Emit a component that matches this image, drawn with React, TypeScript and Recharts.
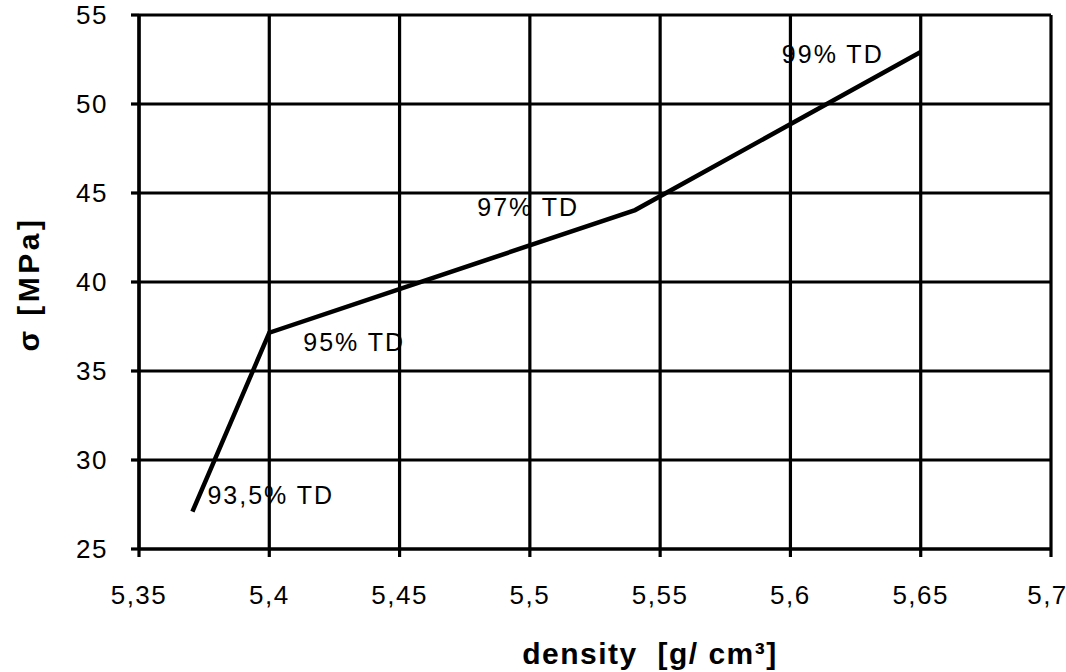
import { LineChart, Line, XAxis, YAxis, CartesianGrid, LabelList } from "recharts";

// measured points (density in g/cm3, stress in MPa)
const densities = [5.3705, 5.4, 5.5404, 5.65];
const sigma = [27.1, 37.15, 44.04, 52.92];
const pointLabels = ["93,5% TD", "95% TD", "97% TD", "99% TD"];

const xTicks = [5.35, 5.4, 5.45, 5.5, 5.55, 5.6, 5.65, 5.7];
const yTicks = [25, 30, 35, 40, 45, 50, 55];

// where each text sits relative to its point: [dx, dy, anchor]
const labelPlacement: [number, number, string][] = [
  [15, -17, "start"],
  [34, 9, "start"],
  [-56, -3, "end"],
  [-37, 2, "end"],
];

const data = densities.map((d, i) => ({ density: d, sigma: sigma[i], label: pointLabels[i] }));

const FONT = "'Liberation Sans', Arial, sans-serif";
const fmt = (v: number) => String(v).replace(".", ",");

const PointLabel = (props: any) => {
  const { x, y, index, value } = props;
  const [dx, dy, anchor] = labelPlacement[index];
  return (
    <text
      x={x + dx}
      y={y + dy}
      textAnchor={anchor}
      dominantBaseline="central"
      fontFamily={FONT}
      fontSize={25}
      letterSpacing={2}
      fill="#000"
    >
      {value}
    </text>
  );
};

const YTitle = ({ viewBox }: any) => {
  const cx = viewBox.x + 28;
  const cy = viewBox.y + viewBox.height / 2 + 2;
  return (
    <text
      x={cx}
      y={cy}
      transform={`rotate(-90, ${cx}, ${cy})`}
      textAnchor="middle"
      dominantBaseline="central"
      fontFamily={FONT}
      fontWeight="bold"
      fontSize={30}
      letterSpacing={3.5}
      fill="#000"
    >
      σ [MPa]
    </text>
  );
};

const XTitle = ({ viewBox }: any) => (
  <text
    x={viewBox.x + viewBox.width / 2 + 55}
    y={viewBox.y + 104}
    textAnchor="middle"
    dominantBaseline="central"
    fontFamily={FONT}
    fontWeight="bold"
    fontSize={30}
    letterSpacing={1.5}
    fill="#000"
    style={{ whiteSpace: "pre" }}
  >
    {"density  [g/ cm³]"}
  </text>
);

export default function App() {
  const tickStyle = { fill: "#000", fontSize: 26, fontFamily: FONT, letterSpacing: 1.5 };
  return (
    <div style={{ position: "absolute", left: 0, top: 0, background: "#fff" }}>
      <LineChart width={1066} height={672} data={data} margin={{ top: 15, right: 15, left: 0, bottom: 0 }}>
        <CartesianGrid stroke="#000" strokeWidth={3.2} />
        <XAxis
          dataKey="density"
          type="number"
          domain={[5.35, 5.7]}
          ticks={xTicks}
          tickFormatter={fmt}
          height={123}
          tickSize={8}
          tickMargin={29}
          tick={tickStyle}
          axisLine={{ stroke: "#000", strokeWidth: 3.2 }}
          tickLine={{ stroke: "#000", strokeWidth: 3.2 }}
          label={{ content: XTitle }}
        />
        <YAxis
          type="number"
          domain={[25, 55]}
          ticks={yTicks}
          width={139}
          tickSize={8}
          tickMargin={23}
          tick={tickStyle}
          axisLine={{ stroke: "#000", strokeWidth: 3.2 }}
          tickLine={{ stroke: "#000", strokeWidth: 3.2 }}
          label={{ content: YTitle }}
        />
        <Line
          dataKey="sigma"
          stroke="#000"
          strokeWidth={4.5}
          dot={false}
          activeDot={false}
          isAnimationActive={false}
        >
          <LabelList dataKey="label" content={PointLabel} />
        </Line>
      </LineChart>
    </div>
  );
}
